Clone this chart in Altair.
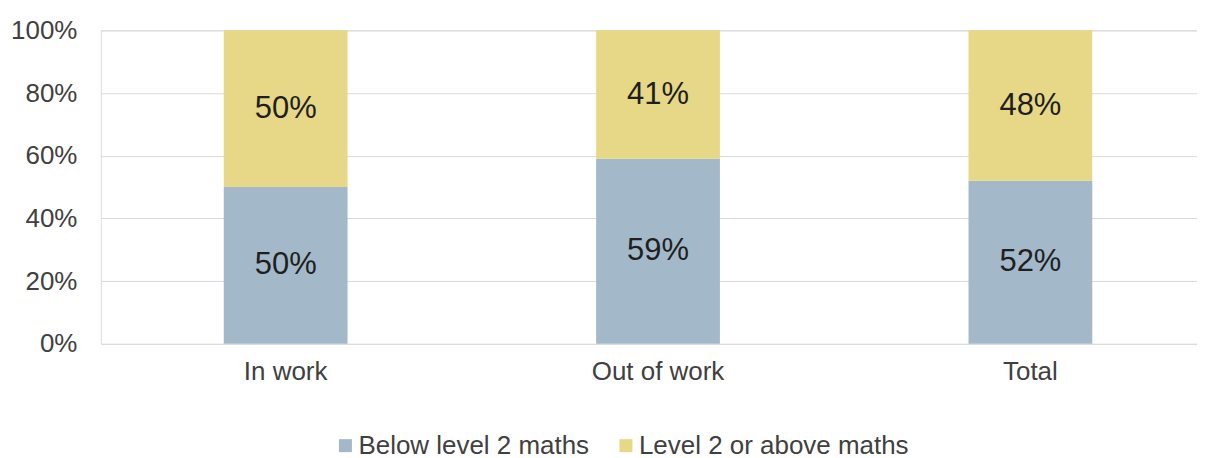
import altair as alt
import pandas as pd

categories = ["In work", "Out of work", "Total"]
series = ["Below level 2 maths", "Level 2 or above maths"]
below = [50, 59, 52]
above = [50, 41, 48]
colors = ["#a3b9c9", "#e6d886"]
y_ticks = [0, 20, 40, 60, 80, 100]

rows = []
for i, c in enumerate(categories):
    rows.append({"category": c, "series": series[0], "value": below[i], "order": 0})
    rows.append({"category": c, "series": series[1], "value": above[i], "order": 1})
df = pd.DataFrame(rows)

FONT = "Liberation Sans"
TXT = "#404040"

x_enc = alt.X(
    "category:N", sort=categories, title=None,
    scale=alt.Scale(paddingInner=0.6676, paddingOuter=0.3057, align=0.54),
    axis=alt.Axis(labelAngle=0, labelFontSize=26, labelColor=TXT, ticks=False,
                  domain=False, labelPadding=15, labelFont=FONT),
)

y_scale = alt.Scale(domain=[0, 100], nice=False)

bars = alt.Chart(df).mark_bar().encode(
    x=x_enc,
    y=alt.Y(
        "value:Q", stack="zero", scale=y_scale, title=None,
        axis=alt.Axis(values=y_ticks, labelExpr="datum.value + '%'", labelFontSize=26,
                      labelColor=TXT, ticks=False, domain=False, labelPadding=24,
                      gridColor="#d9d9d9", gridWidth=1, labelFont=FONT),
    ),
    color=alt.Color(
        "series:N", scale=alt.Scale(domain=series, range=colors),
        legend=alt.Legend(title=None, orient="none", legendX=232, legendY=403,
                          direction="horizontal", symbolType="square", symbolSize=169,
                          labelFontSize=26, labelColor=TXT, columnPadding=23,
                          labelOffset=0, padding=0, symbolStrokeWidth=0, labelFont=FONT,
                          labelLimit=0),
    ),
    order=alt.Order("order:Q"),
)

labels = alt.Chart(df).transform_stack(
    stack="value", groupby=["category"], as_=["v0", "v1"],
    sort=[alt.SortField("order", order="ascending")],
).transform_calculate(
    mid="(datum.v0 + datum.v1) / 2", lab="datum.value + '%'"
).mark_text(fontSize=31, color="#1f1f1f", font=FONT).encode(
    x=alt.X("category:N", sort=categories),
    y=alt.Y("mid:Q", scale=y_scale),
    text="lab:N",
)

chart = alt.layer(bars, labels).properties(
    width=1098, height=314,
    padding={"left": 2, "top": 9, "right": 0, "bottom": 0},
).configure_view(stroke=None).configure(font=FONT)

chart.save("out.html", embed_options={"renderer": "svg", "actions": False})
